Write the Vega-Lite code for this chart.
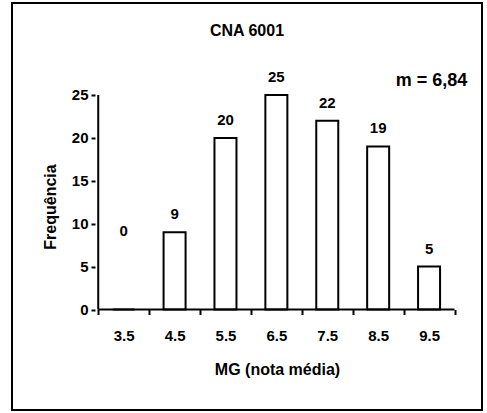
{
  "$schema": "https://vega.github.io/schema/vega-lite/v6.json",
  "width": 470,
  "height": 407,
  "autosize": "none",
  "padding": {"left": 12, "top": 3, "right": 5, "bottom": 3},
  "background": "white",
  "config": {
    "view": {"stroke": "black", "strokeWidth": 2},
    "font": "Liberation Sans",
    "axis": {"labelFont": "Liberation Sans", "titleFont": "Liberation Sans", "labelFontWeight": "bold", "titleFontWeight": "bold", "labelColor": "black", "titleColor": "black", "tickColor": "black", "grid": false, "domain": false}
  },
  "title": {"text": "CNA 6001", "anchor": "middle", "frame": "group", "offset": -44, "baseline": "middle", "fontSize": 16, "fontWeight": "bold", "font": "Liberation Sans", "color": "black"},
  "data": {"values": [
    {"mg": 3.5, "count": 0},
    {"mg": 4.5, "count": 9},
    {"mg": 5.5, "count": 20},
    {"mg": 6.5, "count": 25},
    {"mg": 7.5, "count": 22},
    {"mg": 8.5, "count": 19},
    {"mg": 9.5, "count": 5}
  ]},
  "layer": [
    {
      "mark": {"type": "bar", "fill": "white", "stroke": "black", "strokeWidth": 2, "width": 22},
      "encoding": {
        "x": {"field": "mg", "type": "quantitative",
              "scale": {"domain": [1.404, 10.442], "nice": false, "zero": false},
              "axis": {"orient": "bottom", "values": [3, 4, 5, 6, 7, 8, 9, 10], "labels": false, "ticks": true, "tickSize": 5, "tickWidth": 2, "offset": -100.5, "title": null}},
        "y": {"field": "count", "type": "quantitative",
              "scale": {"domain": [-11.71, 35.72], "nice": false, "zero": false},
              "axis": {"values": [0, 5, 10, 15, 20, 25], "offset": -83, "tickSize": 4, "tickWidth": 2, "labelPadding": 3, "labelFontSize": 15, "title": "Frequência", "titleFontSize": 16, "titlePadding": 13}}
      }
    },
    {
      "transform": [{"filter": "datum.count > 0"}],
      "mark": {"type": "text", "fontSize": 15, "fontWeight": "bold", "font": "Liberation Sans", "color": "black", "baseline": "alphabetic", "dy": -13},
      "encoding": {
        "x": {"field": "mg", "type": "quantitative",
              "axis": {"orient": "bottom", "values": [3.5, 4.5, 5.5, 6.5, 7.5, 8.5, 9.5], "format": ".1f", "ticks": false, "tickSize": 0, "labelPadding": 19, "labelFontSize": 15, "offset": -100.5, "title": "MG (nota média)", "titleFontSize": 16, "titleX": 265, "titleY": 60, "titleBaseline": "middle"}},
        "y": {"field": "count", "type": "quantitative"},
        "text": {"field": "count", "type": "quantitative"}
      }
    },
    {
      "transform": [{"filter": "datum.count == 0"}],
      "mark": {"type": "text", "fontSize": 15, "fontWeight": "bold", "font": "Liberation Sans", "color": "black", "baseline": "alphabetic", "dy": -74},
      "encoding": {
        "x": {"field": "mg", "type": "quantitative", "axis": null},
        "y": {"field": "count", "type": "quantitative"},
        "text": {"field": "count", "type": "quantitative"}
      }
    },
    {
      "data": {"values": [{}]},
      "mark": {"type": "rule", "color": "black", "strokeWidth": 2},
      "encoding": {
        "x": {"datum": 3, "type": "quantitative", "axis": null},
        "x2": {"datum": 10},
        "y": {"datum": 0, "type": "quantitative"}
      }
    },
    {
      "data": {"values": [{}]},
      "mark": {"type": "rule", "color": "black", "strokeWidth": 2},
      "encoding": {
        "x": {"datum": 3, "type": "quantitative", "axis": null},
        "y": {"datum": 0, "type": "quantitative"},
        "y2": {"datum": 25}
      }
    },
    {
      "data": {"values": [{}]},
      "mark": {"type": "text", "fontSize": 18, "fontWeight": "bold", "font": "Liberation Sans", "color": "black", "align": "right", "baseline": "middle"},
      "encoding": {
        "x": {"datum": 10.25, "type": "quantitative", "axis": null},
        "y": {"datum": 26.63, "type": "quantitative"},
        "text": {"value": "m = 6,84"}
      }
    }
  ],
  "resolve": {"axis": {"x": "independent"}}
}
